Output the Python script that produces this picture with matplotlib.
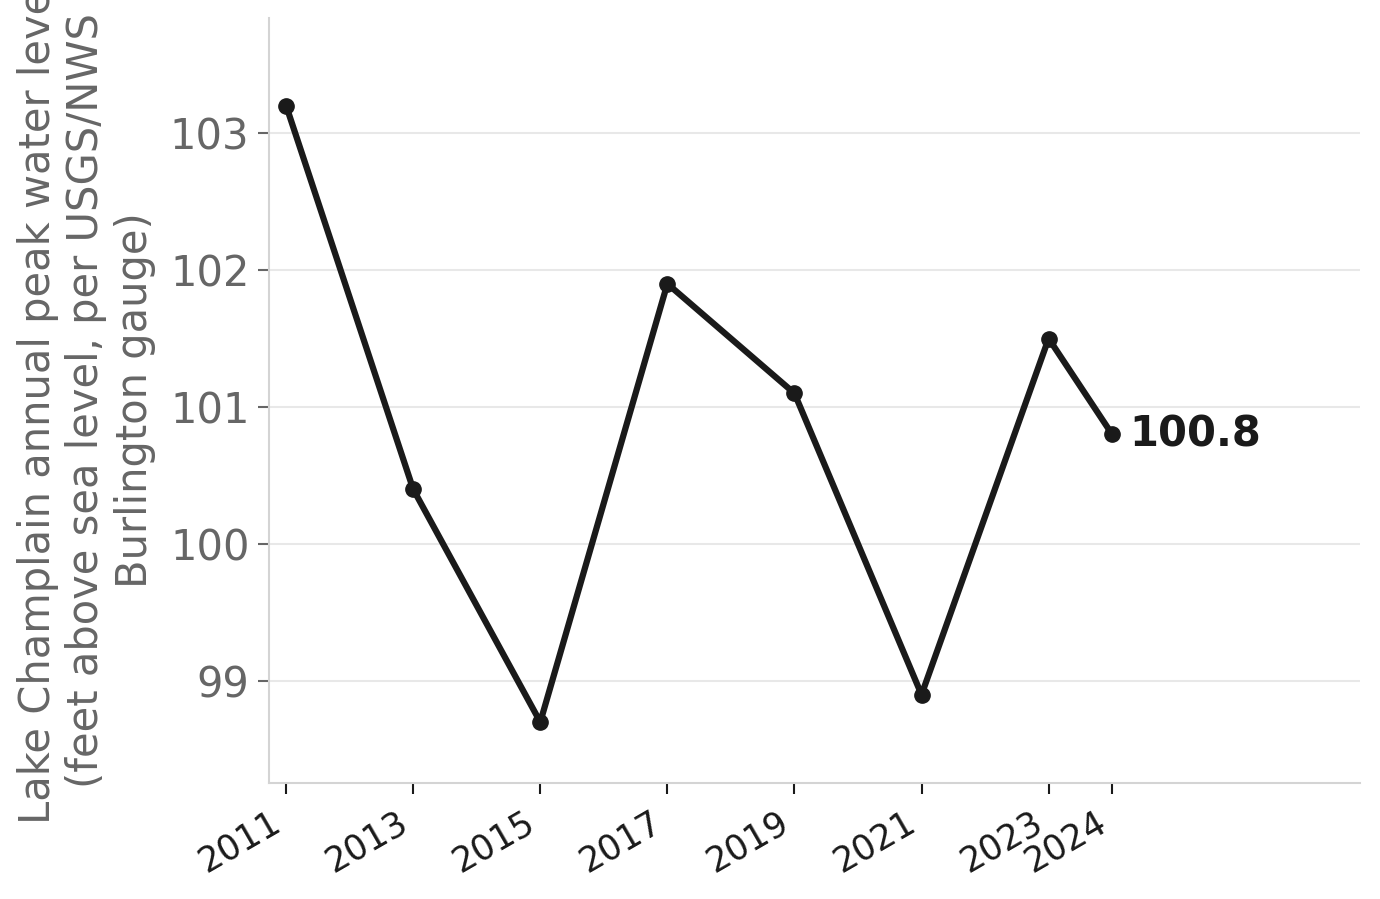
import matplotlib
matplotlib.use("Agg")
import matplotlib.pyplot as plt

years = [2011, 2013, 2015, 2017, 2019, 2021, 2023, 2024]
levels = [103.2, 100.4, 98.7, 101.9, 101.1, 98.9, 101.5, 100.8]
ylabel = "Lake Champlain annual peak water level\n(feet above sea level, per USGS/NWS\nBurlington gauge)"

plt.rcParams['font.family'] = ['DejaVu Sans']
fig = plt.figure(figsize=(13.8, 8.99), dpi=100)
ax = fig.add_axes([0.1949, 0.129, 0.9855 - 0.1949, 0.98 - 0.129])

line_c = '#1a1a1a'
ax.plot(years, levels, color=line_c, lw=4.5, marker='o', markersize=11, zorder=3)

ax.set_xlim(2010.73, 2027.9)
ax.set_ylim(98.255, 103.84)
ax.set_xticks(years)
ax.set_xticklabels([str(y) for y in years], rotation=30, ha='right')
ax.set_yticks([99, 100, 101, 102, 103])

ax.grid(axis='y', color='#e8e8e8', lw=1.5, zorder=0)
ax.grid(axis='x', visible=False)
for s in ['top', 'right']:
    ax.spines[s].set_visible(False)
for s in ['left', 'bottom']:
    ax.spines[s].set_color('#d4d4d4')
    ax.spines[s].set_linewidth(1.5)

ax.tick_params(axis='y', labelsize=30, colors='#666666', length=8, width=1.5, pad=6)
ax.tick_params(axis='x', labelsize=25, colors='#1a1a1a', length=8, width=1.5, pad=8)
ax.set_ylabel(ylabel, fontsize=30, color='#666666', labelpad=10)

ax.annotate(f"{levels[-1]:.1f}", xy=(years[-1], levels[-1]), xytext=(12, 0),
            textcoords='offset points', ha='left', va='center',
            fontsize=30, fontweight='bold', color=line_c)

fig.savefig('out.png', dpi=100)
